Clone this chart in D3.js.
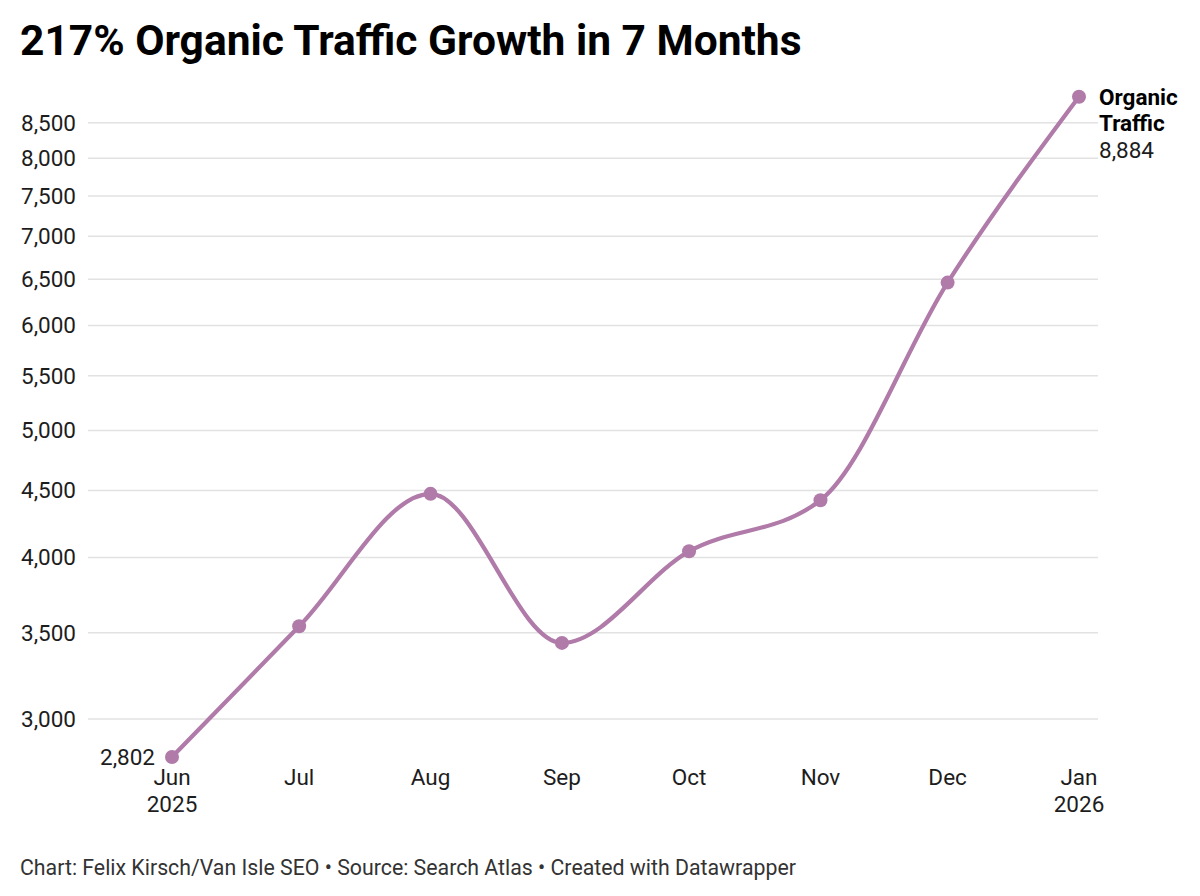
<!DOCTYPE html>
<html>
<head>
<meta charset="utf-8">
<script src="https://cdn.jsdelivr.net/npm/d3@7"></script>
<style>
  body { margin: 0; background: #fff; }
  svg { font-family: Roboto, "Noto Sans", sans-serif; }
  .grid line { stroke: #e2e2e2; stroke-width: 1.5; }
  .ylab, .xlab, .vlab { font-size: 22.5px; fill: #1d1d1d; }
</style>
</head>
<body>
<div id="chart"></div>
<script>
// data
var months = ["2025-06", "2025-07", "2025-08", "2025-09", "2025-10", "2025-11", "2025-12", "2026-01"];
var traffic = [2802, 3540, 4474, 3437, 4043, 4424, 6463, 8884];
var yTicks = [3000, 3500, 4000, 4500, 5000, 5500, 6000, 6500, 7000, 7500, 8000, 8500];
var seriesName = ["Organic", "Traffic"];

var width = 1200, height = 896;
var parse = d3.timeParse("%Y-%m");
var data = months.map(function(m, i) { return {date: parse(m), value: traffic[i]}; });

var svg = d3.select("#chart").append("svg")
    .attr("width", width)
    .attr("height", height);

var x = d3.scaleTime()
    .domain(d3.extent(data, function(d) { return d.date; }))
    .range([172, 1079]);

// near-logarithmic spacing, matches the source gridlines better than a pure log
var y = d3.scalePow()
    .exponent(0.05)
    .domain([3000, 8500])
    .range([719, 122.7]);

var fmt = d3.format(",");

// title
svg.append("text")
    .attr("x", 20)
    .attr("y", 55)
    .style("font-size", "42.5px")
    .style("font-weight", "700")
    .style("fill", "#000")
    .text("217% Organic Traffic Growth in 7 Months");

// gridlines + y labels
var grid = svg.append("g").attr("class", "grid");
grid.selectAll("line")
    .data(yTicks)
    .enter()
    .append("line")
    .attr("x1", 88)
    .attr("x2", 1098)
    .attr("y1", function(d) { return y(d); })
    .attr("y2", function(d) { return y(d); });

svg.append("g").selectAll("text")
    .data(yTicks)
    .enter()
    .append("text")
    .attr("class", "ylab")
    .attr("x", 76)
    .attr("y", function(d) { return y(d); })
    .attr("dy", "0.35em")
    .attr("text-anchor", "end")
    .text(function(d) { return fmt(d); });

// x labels
var monthFmt = d3.timeFormat("%b"), yearFmt = d3.timeFormat("%Y");
var xl = svg.append("g").selectAll("text")
    .data(data)
    .enter()
    .append("text")
    .attr("class", "xlab")
    .attr("text-anchor", "middle")
    .attr("x", function(d) { return x(d.date); })
    .attr("y", 785);
xl.append("tspan").text(function(d) { return monthFmt(d.date); });
xl.filter(function(d, i) { return i === 0 || i === data.length - 1; })
    .append("tspan")
    .attr("x", function(d) { return x(d.date); })
    .attr("dy", 26.7)
    .text(function(d) { return yearFmt(d.date); });

// line
var line = d3.line()
    .x(function(d) { return x(d.date); })
    .y(function(d) { return y(d.value); })
    .curve(d3.curveMonotoneX);

svg.append("path")
    .datum(data)
    .attr("d", line)
    .attr("fill", "none")
    .attr("stroke", "#b07aa9")
    .attr("stroke-width", 4.2)
    .attr("stroke-linejoin", "round");

svg.append("g").selectAll("circle")
    .data(data)
    .enter()
    .append("circle")
    .attr("cx", function(d) { return x(d.date); })
    .attr("cy", function(d) { return y(d.value); })
    .attr("r", 7)
    .attr("fill", "#b07aa9");

// value labels
var first = data[0], last = data[data.length - 1];
svg.append("text")
    .attr("class", "vlab")
    .attr("x", x(first.date) - 17)
    .attr("y", y(first.value))
    .attr("dy", "0.35em")
    .attr("text-anchor", "end")
    .text(fmt(first.value));

var lab = svg.append("text")
    .attr("class", "vlab")
    .attr("x", x(last.date) + 20)
    .attr("y", y(last.value) + 8);
seriesName.forEach(function(s, i) {
    lab.append("tspan")
        .attr("x", x(last.date) + 20)
        .attr("dy", i === 0 ? 0 : 26.5)
        .style("font-weight", "700")
        .style("fill", "#000")
        .text(s);
});
lab.append("tspan")
    .attr("x", x(last.date) + 20)
    .attr("dy", 26.5)
    .text(fmt(last.value));

// footer
svg.append("text")
    .attr("x", 20)
    .attr("y", 875)
    .style("font-size", "21.3px")
    .style("fill", "#333")
    .text("Chart: Felix Kirsch/Van Isle SEO \u2022 Source: Search Atlas \u2022 Created with Datawrapper");
</script>
</body>
</html>
